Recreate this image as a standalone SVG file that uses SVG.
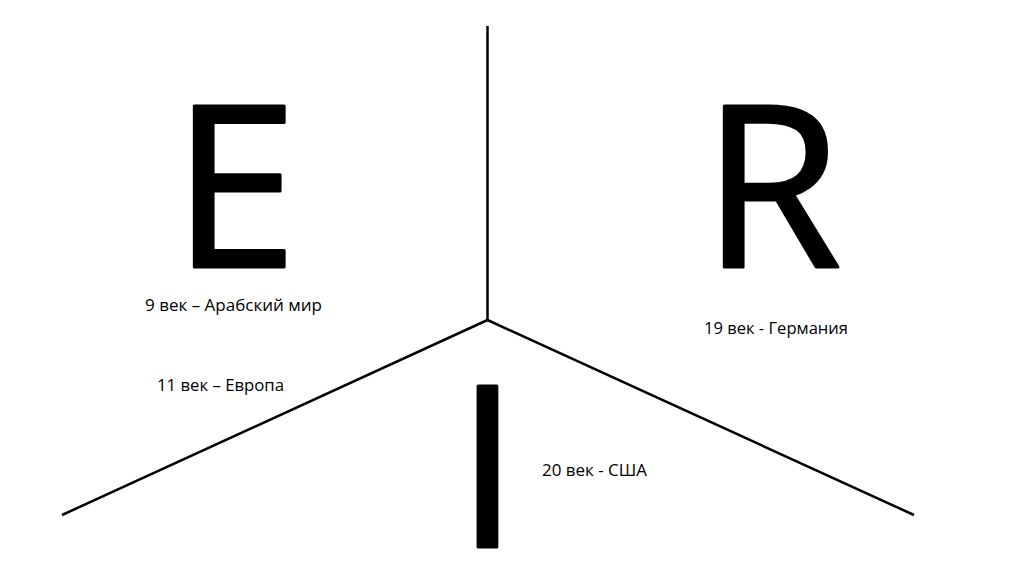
<svg xmlns="http://www.w3.org/2000/svg" width="1024" height="574" viewBox="0 0 1024 574">
<style>
.big{font-family:"Open Sans","Liberation Sans",sans-serif;font-size:226px;fill:#000;stroke:#000;stroke-width:3;stroke-linejoin:round;text-anchor:middle}
.lbl{font-family:"Open Sans","Liberation Sans",sans-serif;font-size:16.5px;fill:#000}
.ln{stroke:#000;stroke-width:2.5;fill:none;stroke-linecap:butt}
</style>
<rect width="1024" height="574" fill="#fff"/>
<g id="connectors">
<line class="ln" x1="487.5" y1="26" x2="487.5" y2="320"/>
<line class="ln" x1="487.5" y1="320" x2="62" y2="515"/>
<line class="ln" x1="487.5" y1="320" x2="914" y2="515"/>
</g>
<g id="node-E">
<text class="big" x="235" y="267">E</text>
<text class="lbl" x="145" y="311" textLength="177" lengthAdjust="spacingAndGlyphs">9 век – Арабский мир</text>
<text class="lbl" x="157" y="391" textLength="127" lengthAdjust="spacingAndGlyphs">11 век – Европа</text>
</g>
<g id="node-R">
<text class="big" x="772" y="267">R</text>
<text class="lbl" x="704" y="334" textLength="144" lengthAdjust="spacingAndGlyphs">19 век - Германия</text>
</g>
<g id="node-I">
<text class="big" x="487.5" y="547">I</text>
<text class="lbl" x="542" y="476" textLength="105" lengthAdjust="spacingAndGlyphs">20 век - США</text>
</g>
</svg>
